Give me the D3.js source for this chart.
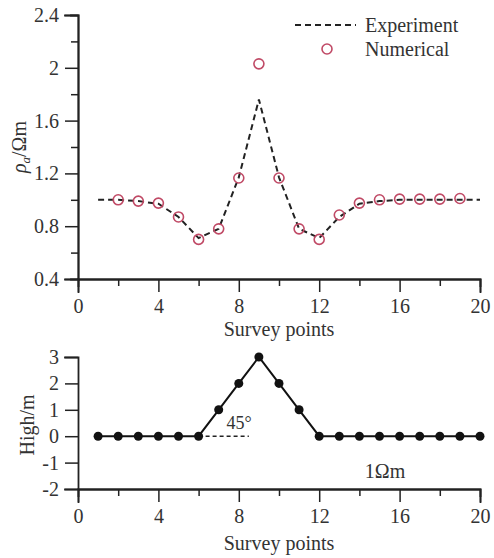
<!DOCTYPE html>
<html>
<head>
<meta charset="utf-8">
<script src="https://cdn.jsdelivr.net/npm/d3@7"></script>
<style>
  html, body { margin: 0; padding: 0; background: #ffffff; }
  svg { display: block; }
  text { font-family: "Liberation Serif", "Times New Roman", serif; fill: #333; }
</style>
</head>
<body>
<svg id="chart" width="494" height="558"></svg>
<script>
// ---- data ----
const expX = [1, 2, 3, 4, 5, 6, 7, 8, 9, 10, 11, 12, 13, 14, 15, 16, 17, 18, 19, 20];
const expY = [1.0, 1.0, 0.99, 0.97, 0.87, 0.71, 0.78, 1.17, 1.76, 1.17, 0.78, 0.71, 0.87, 0.97, 0.99, 1.0, 1.0, 1.0, 1.0, 1.0];
const numX = [2, 3, 4, 5, 6, 7, 8, 9, 10, 11, 12, 13, 14, 15, 16, 17, 18, 19];
const numY = [1.0, 0.99, 0.975, 0.87, 0.70, 0.78, 1.165, 2.03, 1.165, 0.78, 0.70, 0.885, 0.975, 1.0, 1.005, 1.005, 1.005, 1.01];
const topoX = [1, 2, 3, 4, 5, 6, 7, 8, 9, 10, 11, 12, 13, 14, 15, 16, 17, 18, 19, 20];
const topoY = [0, 0, 0, 0, 0, 0, 1, 2, 3, 2, 1, 0, 0, 0, 0, 0, 0, 0, 0, 0];
const refLineX = [6, 8.5];
const refLineY = [0, 0];
const xMajor = [0, 4, 8, 12, 16, 20];
const xMinor = [2, 6, 10, 14, 18];
const yTopMajor = [0.4, 0.8, 1.2, 1.6, 2.0, 2.4];
const yTopMinor = [0.6, 1.0, 1.4, 1.8, 2.2];
const yBotMajor = [-2, -1, 0, 1, 2, 3];
const legendLabels = ["Experiment", "Numerical"];

const svg = d3.select("#chart");
const FONT = 20;
const RED = "#c04a66";
const AX = "#222";

const x = d3.scaleLinear().domain([0, 20]).range([78, 480]);
const yTop = d3.scaleLinear().domain([0.4, 2.4]).range([279, 15]);
const yBot = d3.scaleLinear().domain([-2, 3]).range([489, 357]);

function styleAxis(g) {
  g.select(".domain").attr("stroke", AX).attr("stroke-width", 1.8);
  g.selectAll(".tick line").attr("stroke", AX).attr("stroke-width", 1.5);
  g.selectAll(".tick text").attr("font-size", FONT).attr("fill", "#333")
    .attr("font-family", '"Liberation Serif", "Times New Roman", serif');
}

const plainFmt = d => String(+(+d).toFixed(1));

function drawAxes(yScale, yMajor, yMinor) {
  const bottomY = yScale.range()[0];
  svg.append("g").attr("transform", `translate(0,${bottomY})`)
    .call(d3.axisBottom(x).tickValues(xMinor).tickSize(7).tickFormat(""))
    .call(styleAxis);
  svg.append("g").attr("transform", `translate(0,${bottomY})`)
    .call(d3.axisBottom(x).tickValues(xMajor).tickSize(13).tickPadding(7).tickFormat(plainFmt))
    .call(styleAxis);
  if (yMinor.length) {
    svg.append("g").attr("transform", `translate(${x(0)},0)`)
      .call(d3.axisLeft(yScale).tickValues(yMinor).tickSize(7).tickFormat(""))
      .call(styleAxis);
  }
  svg.append("g").attr("transform", `translate(${x(0)},0)`)
    .call(d3.axisLeft(yScale).tickValues(yMajor).tickSize(13).tickPadding(6).tickFormat(plainFmt))
    .call(styleAxis);
  svg.selectAll(".domain").attr("stroke-linecap", "square");
}

// ---- top chart ----
drawAxes(yTop, yTopMajor, yTopMinor);

const expData = expX.map((d, i) => [d, expY[i]]);
svg.append("path")
  .datum(expData)
  .attr("fill", "none")
  .attr("stroke", "#222")
  .attr("stroke-width", 2)
  .attr("stroke-dasharray", "6,4")
  .attr("d", d3.line().x(d => x(d[0])).y(d => yTop(d[1])));

svg.append("g").selectAll("circle")
  .data(numX.map((d, i) => [d, numY[i]]))
  .join("circle")
  .attr("cx", d => x(d[0]))
  .attr("cy", d => yTop(d[1]))
  .attr("r", 5)
  .attr("fill", "none")
  .attr("stroke", RED)
  .attr("stroke-width", 1.6);

// legend
const lg = svg.append("g");
lg.append("line").attr("x1", 295).attr("x2", 356).attr("y1", 25).attr("y2", 25)
  .attr("stroke", "#222").attr("stroke-width", 2).attr("stroke-dasharray", "6,4");
lg.append("text").attr("x", 365).attr("y", 25).attr("dy", "0.35em")
  .attr("font-size", FONT).text(legendLabels[0]);
lg.append("circle").attr("cx", 327).attr("cy", 49).attr("r", 5)
  .attr("fill", "none").attr("stroke", RED).attr("stroke-width", 1.6);
lg.append("text").attr("x", 365).attr("y", 49).attr("dy", "0.35em")
  .attr("font-size", FONT).text(legendLabels[1]);

// axis titles top
svg.append("text").attr("x", 279).attr("y", 329).attr("dy", "0.35em")
  .attr("text-anchor", "middle").attr("font-size", FONT).text("Survey points");
const yl = svg.append("text")
  .attr("transform", `translate(19,147) rotate(-90)`)
  .attr("dy", "0.35em").attr("text-anchor", "middle").attr("font-size", FONT);
yl.append("tspan").attr("font-style", "italic").text("ρ");
yl.append("tspan").attr("font-style", "italic").attr("font-size", 13).attr("dy", "4").text("a");
yl.append("tspan").attr("dy", "-4").text("/Ωm");

// ---- bottom chart ----
drawAxes(yBot, yBotMajor, []);

svg.append("path")
  .datum(refLineX.map((d, i) => [d, refLineY[i]]))
  .attr("fill", "none").attr("stroke", "#222").attr("stroke-width", 1.5)
  .attr("stroke-dasharray", "4,3")
  .attr("d", d3.line().x(d => x(d[0])).y(d => yBot(d[1])));

const topo = topoX.map((d, i) => [d, topoY[i]]);
svg.append("path")
  .datum(topo)
  .attr("fill", "none").attr("stroke", "#111").attr("stroke-width", 2)
  .attr("d", d3.line().x(d => x(d[0])).y(d => yBot(d[1])));
svg.append("g").selectAll("circle")
  .data(topo).join("circle")
  .attr("cx", d => x(d[0])).attr("cy", d => yBot(d[1]))
  .attr("r", 4.5).attr("fill", "#111");

svg.append("text").attr("x", 239).attr("y", 423).attr("dy", "0.35em")
  .attr("text-anchor", "middle").attr("font-size", 18).text("45°");
svg.append("text").attr("x", 385).attr("y", 471).attr("dy", "0.35em")
  .attr("text-anchor", "middle").attr("font-size", FONT).text("1Ωm");

svg.append("text").attr("x", 279).attr("y", 543).attr("dy", "0.35em")
  .attr("text-anchor", "middle").attr("font-size", FONT).text("Survey points");
svg.append("text")
  .attr("transform", `translate(27,425) rotate(-90)`)
  .attr("dy", "0.35em").attr("text-anchor", "middle").attr("font-size", FONT)
  .text("High/m");
</script>
</body>
</html>
